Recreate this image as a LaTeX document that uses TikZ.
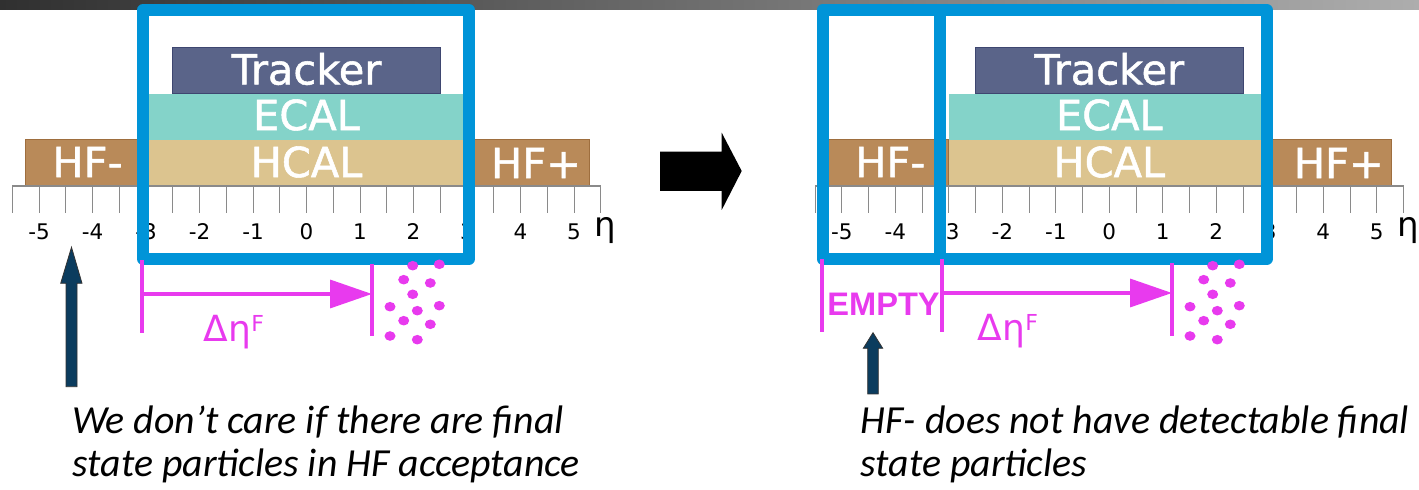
\documentclass[tikz,border=0pt]{standalone}
\usepackage{fontspec}
\setmainfont{Carlito}
\newfontfamily\dejavu{DejaVu Sans}
\newfontfamily\dejavub[FakeBold=1.3]{DejaVu Sans}
\newfontfamily\libsans{Liberation Sans}
\usetikzlibrary{arrows.meta}
\definecolor{bar1}{HTML}{303030}
\definecolor{bar2}{HTML}{ADADAD}
\definecolor{blueC}{HTML}{0094D8}
\definecolor{trkC}{HTML}{5A6489}
\definecolor{trkB}{HTML}{3E4670}
\definecolor{ecalC}{HTML}{84D3C9}
\definecolor{hcalC}{HTML}{DCC48F}
\definecolor{hfC}{HTML}{B98A59}
\definecolor{hfB}{HTML}{9E6E3E}
\definecolor{pinkC}{HTML}{E83AEE}
\definecolor{navyC}{HTML}{0B3C5E}
\definecolor{tickC}{HTML}{8A8A8A}
\tikzset{
  det/.style={inner sep=0pt, outer sep=0pt, line width=0.5pt},
  dettext/.style={text=white, font=\dejavub\fontsize{20.75pt}{24pt}\selectfont, inner sep=0pt},
  ticklab/.style={font=\dejavu\fontsize{10.75pt}{12pt}\selectfont, inner sep=0pt, text=black},
  etalab/.style={font=\dejavu\fontsize{17pt}{18pt}\selectfont, inner sep=0pt, text=black},
  axisline/.style={draw=tickC, line width=0.6pt},
  tickline/.style={draw=tickC, line width=0.5pt},
  bluebox/.style={draw=blueC, line width=6pt, line join=round},
  pinkline/.style={draw=pinkC, line width=1.75pt},
  pinkarrow/.style={draw=pinkC, line width=1.75pt, -{Triangle[length=21pt, width=14pt]}},
  deltalab/.style={text=pinkC, font=\dejavu\fontsize{18pt}{20pt}\selectfont, inner sep=0pt},
  emptylab/.style={text=pinkC, font=\libsans\bfseries\fontsize{16.3pt}{18pt}\selectfont, inner sep=0pt},
  caption/.style={text=black, font=\itshape\fontsize{19.9pt}{23pt}\selectfont, inner sep=0pt},
  navyarrow/.style={fill=navyC, draw=black!80, line width=0.4pt},
}
\newcommand\supF{\raisebox{5pt}{\fontsize{11pt}{12pt}\selectfont F}}
\newcommand\drawdetector[2]{%
  \node[det, fill=hfC, draw=hfB, minimum width=60.2pt, minimum height=23pt] (#1hfm) at ({#2-220.7},163) {};
  \node[det, fill=hfC, draw=hfB, minimum width=61pt, minimum height=23pt] (#1hfp) at ({#2+221.5},163) {};
  \node[det, fill=hcalC, minimum width=160.5pt, minimum height=23pt] (#1hcal) at (#2,163) {};
  \node[det, fill=ecalC, minimum width=160.5pt, minimum height=23pt] (#1ecal) at (#2,117) {};
  \node[det, fill=trkC, draw=trkB, minimum width=133.75pt, minimum height=23pt] (#1trk) at (#2,71) {};
  \node[dettext] (#1trkt) at (#2,69) {Tracker};
  \node[dettext] (#1ecalt) at (#2,115) {ECAL};
  \node[dettext] (#1hcalt) at (#2,162) {HCAL};
  \node[dettext] (#1hfmt) at ({#2-219},162) {HF-};
  \node[dettext] (#1hfpt) at ({#2+229.5},163) {HF+};
  \draw[axisline] ({#2-294.25},186) -- ({#2+294.25},186);
  \foreach \k in {-11,...,11} \draw[tickline] ({#2+\k*26.75},186) -- ({#2+\k*26.75},213);
  \foreach \k in {-5,...,5} \node[ticklab] (#1l\k) at ({#2+\k*53.5},231.5) {\k};
  \node[etalab, anchor=base] (#1eta) at ({#2+299},237) {η};
}
\newcommand\particles[1]{%
  \foreach \dx/\dy in {412.7/265.7, 439.3/264.3, 403.7/279.7, 430.3/283, 412.7/294.3, 390/306.7, 417.3/310.7, 439.3/305.7, 403.7/320.7, 430.3/324.3, 390/336, 417.3/339.7}
    \fill[pinkC] ({#1+\dx},\dy) ellipse [x radius=2.75pt, y radius=2.4pt];
}
\begin{document}
\begin{tikzpicture}[x=0.5pt,y=-0.5pt]
\useasboundingbox (0,0) rectangle (1419,490);
\shade[left color=bar1, right color=bar2] (0,0) rectangle (1419,10);
\drawdetector{L}{306.5}
\drawdetector{R}{1109.3}
% blue acceptance boxes
\draw[bluebox] (143,10) rectangle (469,259);
\draw[bluebox] (822.6,10) rectangle (1266.6,259);
\draw[bluebox] (940,10) -- (940,259);
% left pink
\draw[pinkline] (142,260) -- (142,333);
\draw[pinkline] (372,264) -- (372,336);
\coordinate (Las) at (142,294);
\coordinate (Lae) at (372,294);
\draw[pinkarrow] (Las) -- (Lae);
\node[deltalab, anchor=base] (Ldl) at (234,342) {Δη\supF};
\particles{0}
% right pink
\draw[pinkline] (822,259) -- (822,332);
\draw[pinkline] (942,259) -- (942,332);
\draw[pinkline] (1172,263) -- (1172,336);
\coordinate (Ras) at (942,293);
\coordinate (Rae) at (1172,293);
\draw[pinkarrow] (Ras) -- (Rae);
\node[deltalab, anchor=base] (Rdl) at (1008,341) {Δη\supF};
\node[emptylab] (Rempty) at (883.5,304.5) {EMPTY};
\particles{800}
% navy arrows
\filldraw[navyarrow] (66,386.7) -- (66,283.3) -- (60.7,283.3) -- (71.5,247.3) -- (82,283.3) -- (77,283.3) -- (77,386.7) -- cycle;
\filldraw[navyarrow] (867.7,394) -- (867.7,348.3) -- (863.3,348.3) -- (873,332.7) -- (882.7,348.3) -- (878.3,348.3) -- (878.3,394) -- cycle;
% black transition arrow
\fill[black] (660,151.7) -- (721.7,151.7) -- (721.7,132.7) -- (741.7,171) -- (721.7,210) -- (721.7,191) -- (660,191) -- cycle;
% captions
\node[caption, anchor=base west] (c1a) at (71.7,433.3) {We don’t care if there are final};
\node[caption, anchor=base west] (c1b) at (72.5,476.7) {state particles in HF acceptance};
\node[caption, anchor=base west] (c2a) at (860.5,433.3) {HF- does not have detectable final};
\node[caption, anchor=base west] (c2b) at (860.5,476.7) {state particles};
\end{tikzpicture}
\end{document}
